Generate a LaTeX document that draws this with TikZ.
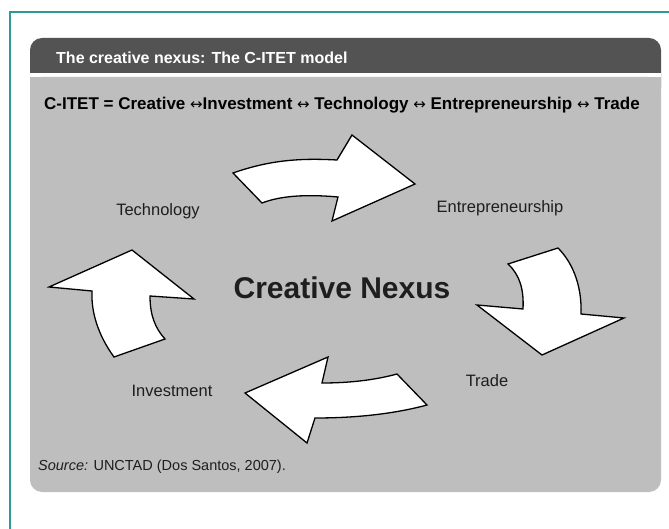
\documentclass[tikz,border=0pt]{standalone}
\usepackage{fontspec}
\setmainfont{Liberation Sans}
\newfontfamily\arrowfont{DejaVu Sans}
\definecolor{frameteal}{HTML}{2E9A94}
\definecolor{headgray}{HTML}{535353}
\definecolor{panelgray}{HTML}{BEBEBE}
\definecolor{inkgray}{HTML}{1E1E1E}
\newcommand{\linkarrow}{{\arrowfont\mdseries\fontsize{15}{17}\selectfont ↔}}
\begin{document}
\begin{tikzpicture}[x=1pt, y=-1pt,
    steplabel/.style={font=\fontsize{16.5}{19}\selectfont, text=inkgray, inner sep=0pt},
    flow/.style={draw=black, fill=white, line width=1.3pt, line join=miter}]
  \def\L{30}
  \def\R{661}
  \useasboundingbox (0,0) rectangle (669,529);
  % outer frame
  \draw[frameteal, line width=1.5pt] (669,12) -- (10,12) -- (10,529);
  % panel with title bar
  \fill[headgray, rounded corners=12pt] (\L,38) rectangle (\R,100);
  \fill[white] (\L,73) rectangle (\R,77);
  \fill[panelgray, rounded corners=12pt] (\L,77) rectangle (\R,492);
  \fill[panelgray] (\L,77) rectangle (\R,100);
  \node[anchor=west, text=white, font=\bfseries\fontsize{16}{19}\selectfont,
    inner sep=0pt] (title) at (56,58) {The creative nexus: The C-ITET model};
  \node[anchor=west, font=\bfseries\fontsize{17}{20}\selectfont,
    inner sep=0pt] (formula) at (44,105)
    {C-ITET = Creative \linkarrow Investment \linkarrow\ Technology \linkarrow\
     Entrepreneurship \linkarrow\ Trade};
  % the four cycle arrows
  \draw[flow] (233,173) .. controls (270,160) and (300,158) .. (337,160)
    -- (352,135) -- (415,184) -- (332,221) -- (338,197)
    .. controls (305,194) and (280,196) .. (262,203) -- cycle;
  \draw[flow] (508,264) -- (558,248) .. controls (575,265) and (582,290) .. (581,314)
    -- (624,318) -- (542,355) -- (477,305) -- (523,309)
    .. controls (524,290) and (520,275) .. (508,264) -- cycle;
  \draw[flow] (397,374) -- (427,405) .. controls (390,415) and (350,418) .. (315,418)
    -- (307,443) -- (245,393) -- (328,357) -- (322,383)
    .. controls (350,383) and (375,380) .. (397,374) -- cycle;
  \draw[flow] (165,339) -- (114,357) .. controls (98,335) and (91,312) .. (92,291)
    -- (49,287) -- (132,250) -- (194,299) -- (150,296)
    .. controls (150,315) and (155,328) .. (165,339) -- cycle;
  % labels
  \node[font=\bfseries\fontsize{30}{34}\selectfont, text=inkgray,
    inner sep=0pt] (nexus) at (342,288) {Creative Nexus};
  \node[steplabel] (tech) at (158,211) {Technology};
  \node[steplabel] (entre) at (500,208) {Entrepreneurship};
  \node[steplabel] (trade) at (487,381) {Trade};
  \node[steplabel] (invest) at (172,391) {Investment};
  \node[anchor=west, font=\fontsize{14.5}{17}\selectfont, text=inkgray,
    inner sep=0pt] (source) at (38,467) {\textit{Source:} UNCTAD (Dos Santos, 2007).};
\end{tikzpicture}
\end{document}
